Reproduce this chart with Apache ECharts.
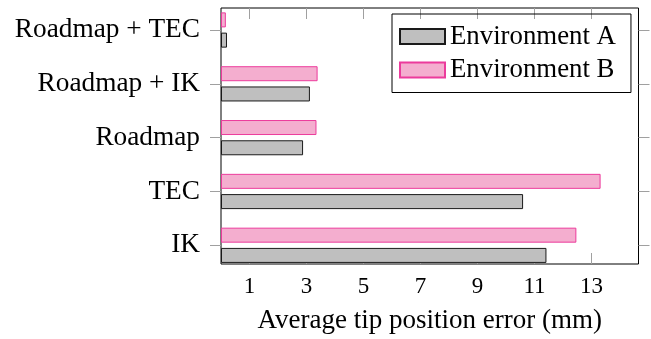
<!DOCTYPE html>
<html>
<head>
<meta charset="utf-8">
<script src="https://cdn.jsdelivr.net/npm/echarts@6/dist/echarts.min.js"></script>
<style>
html,body{margin:0;padding:0;background:#fff;}
#chart{width:651px;height:339px;}
</style>
</head>
<body>
<div id="chart"></div>
<script>
const categories = ['IK', 'TEC', 'Roadmap', 'Roadmap + IK', 'Roadmap + TEC'];
const envA = [11.42, 10.60, 2.88, 3.12, 0.21];
const envB = [12.47, 13.32, 3.35, 3.39, 0.17];
const xTicks = [1, 3, 5, 7, 9, 11, 13];
const xMin = 0, xMax = 14.65;
const axisTitle = 'Average tip position error (mm)';

const FONT = 'Liberation Serif';
const tickColor = '#a0a0a0';
const chart = echarts.init(document.getElementById('chart'), null, {renderer: 'canvas'});

chart.setOption({
  animation: false,
  backgroundColor: '#fff',
  legend: {
    orient: 'vertical',
    left: 392, top: 14,
    padding: [9, 15, 9, 7],
    itemGap: 6.5,
    itemWidth: 45, itemHeight: 15,
    icon: 'rect',
    borderColor: '#000', borderWidth: 1,
    selectedMode: false,
    data: ['Environment A', 'Environment B'],
    textStyle: {fontFamily: FONT, fontSize: 26.8, lineHeight: 26, color: '#000'}
  },
  grid: [
    {left: 221, right: 12.5, top: 8, bottom: 73, show: true, borderColor: '#000', borderWidth: 1, backgroundColor: 'transparent'},
    {left: 221, right: 12.5, top: 3.1, bottom: 66.8}
  ],
  xAxis: [
    {
      type: 'value', gridIndex: 0, position: 'bottom', min: xMin, max: xMax,
      axisLine: {show: false}, splitLine: {show: false},
      axisTick: {show: true, inside: true, length: 11, customValues: xTicks, lineStyle: {color: tickColor, width: 1}},
      axisLabel: {show: true, customValues: xTicks, margin: 11, fontFamily: FONT, fontSize: 23, color: '#000'},
      name: axisTitle, nameLocation: 'middle', nameGap: 43,
      nameTextStyle: {fontFamily: FONT, fontSize: 27, color: '#000'}
    },
    {
      type: 'value', gridIndex: 0, position: 'top', min: xMin, max: xMax,
      axisLine: {show: false}, splitLine: {show: false},
      axisTick: {show: true, inside: true, length: 11, customValues: xTicks, lineStyle: {color: tickColor, width: 1}},
      axisLabel: {show: false}
    },
    {
      type: 'value', gridIndex: 1, min: xMin, max: xMax, show: false
    }
  ],
  yAxis: [
    {type: 'value', gridIndex: 0, show: false, min: 0, max: 1},
    {
      type: 'category', gridIndex: 1, position: 'left', data: categories,
      axisLine: {show: false},
      axisTick: {show: true, alignWithLabel: true, length: 11, lineStyle: {color: tickColor, width: 1}},
      axisLabel: {margin: 21, fontFamily: FONT, fontSize: 27.3, color: '#000'}
    },
    {
      type: 'category', gridIndex: 1, position: 'right', data: categories,
      axisLine: {show: false},
      axisTick: {show: true, alignWithLabel: true, length: 11, lineStyle: {color: tickColor, width: 1}},
      axisLabel: {show: false}
    }
  ],
  series: [
    {
      name: 'Environment B', type: 'bar', xAxisIndex: 2, yAxisIndex: 1,
      data: envB, barWidth: 15, barGap: '35%',
      itemStyle: {color: '#f4aecf', borderColor: '#ec3b9c', borderWidth: 1}
    },
    {
      name: 'Environment A', type: 'bar', xAxisIndex: 2, yAxisIndex: 1,
      data: envA, barWidth: 15, barGap: '35%',
      itemStyle: {color: '#bfbfbf', borderColor: '#1a1a1a', borderWidth: 1}
    }
  ]
});
</script>
</body>
</html>
